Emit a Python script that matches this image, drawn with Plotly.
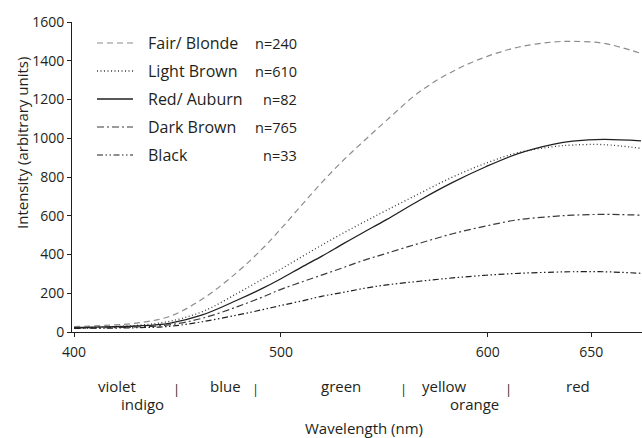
import plotly.graph_objects as go

# ---------------- data ----------------
wavelength = [400, 415, 430, 446, 462, 479, 491, 500, 510, 520, 530, 540, 551, 567, 583, 599, 615, 632, 641, 656, 674]

fair_blonde = [28, 34, 46, 80, 170, 310, 430, 533, 655, 775, 885, 985, 1092, 1240, 1345, 1420, 1471, 1497, 1500, 1490, 1438]
light_brown = [22, 27, 34, 55, 105, 200, 272, 325, 388, 450, 510, 567, 628, 715, 800, 871, 927, 957, 965, 967, 948]
red_auburn = [22, 26, 31, 45, 88, 165, 225, 275, 335, 393, 455, 515, 580, 680, 772, 853, 922, 970, 985, 994, 986]
dark_brown = [19, 22, 26, 37, 71, 131, 180, 220, 258, 295, 332, 370, 406, 458, 507, 547, 580, 597, 603, 607, 603]
black = [19, 20, 22, 29, 53, 88, 115, 137, 160, 185, 204, 225, 243, 262, 279, 293, 303, 309, 311, 311, 303]

series_names = ["Fair/ Blonde", "Light Brown", "Red/ Auburn", "Dark Brown", "Black"]
series_counts = ["n=240", "n=610", "n=82", "n=765", "n=33"]
series_values = [fair_blonde, light_brown, red_auburn, dark_brown, black]

x_tick_vals = [400, 500, 600, 650]
y_tick_vals = [0, 200, 400, 600, 800, 1000, 1200, 1400, 1600]

band_labels = ["violet", "indigo", "|", "blue", "|", "green", "|", "yellow", "orange", "|", "red"]
band_positions = [420.7, 433.3, 449.7, 473.4, 487.9, 529.0, 559.0, 578.8, 593.3, 610.2, 643.6]
band_rows = [0, 1, 0, 0, 0, 0, 0, 0, 1, 0, 0]

# ---------------- styling ----------------
W, H = 642, 438
ML, MR, MT, MB = 72, 0, 22, 106
PW, PH = W - ML - MR, H - MT - MB
FONT = "Open Sans"
TXT = "#231f20"

styles = [
    dict(color="#8c8c8c", width=1.2, dash="6px,4px"),
    dict(color="#3a3a3a", width=1.3, dash="1px,2.5px"),
    dict(color="#231f20", width=1.3, dash="solid"),
    dict(color="#3a3a3a", width=1.2, dash="7px,3px,2px,3px"),
    dict(color="#231f20", width=1.2, dash="6px,2.5px,1.5px,2.5px,1.5px,2.5px"),
]


def px_x(p):
    return (p - ML) / PW


def px_y(p):
    return (MT + PH - p) / PH


fig = go.Figure()
for name, vals, st in zip(series_names, series_values, styles):
    fig.add_trace(go.Scatter(
        x=wavelength, y=vals, mode="lines", name=name,
        line=dict(shape="spline", smoothing=1.0, **st),
        showlegend=False, hoverinfo="x+y+name",
    ))

# manual legend
shapes = []
annotations = []
row_y = [43, 71, 99, 127, 155]
for i, (name, cnt, st) in enumerate(zip(series_names, series_counts, styles)):
    yp = px_y(row_y[i])
    shapes.append(dict(type="line", xref="paper", yref="paper",
                       x0=px_x(97), x1=px_x(133), y0=yp, y1=yp,
                       line=dict(color=st["color"], width=st["width"], dash=st["dash"])))
    annotations.append(dict(xref="paper", yref="paper", x=px_x(146), y=yp,
                            text=name, showarrow=False, xanchor="left", yanchor="middle",
                            font=dict(family=FONT, size=16, color=TXT)))
    annotations.append(dict(xref="paper", yref="paper", x=px_x(299), y=yp,
                            text=cnt, showarrow=False, xanchor="right", yanchor="middle",
                            font=dict(family=FONT, size=14.5, color=TXT)))

# colour bands under the x-axis
for lab, pos, row in zip(band_labels, band_positions, band_rows):
    yp = 386 if row == 0 else 404
    if lab == "|":
        yp = 389
    annotations.append(dict(xref="x", yref="paper", x=pos, y=px_y(yp),
                            text=lab, showarrow=False, xanchor="center", yanchor="middle",
                            font=dict(family=FONT, size=15 if lab != "|" else 13, color=TXT)))

# axis titles
annotations.append(dict(xref="paper", yref="paper", x=px_x(364), y=px_y(428),
                        text="Wavelength (nm)", showarrow=False, xanchor="center", yanchor="middle",
                        font=dict(family=FONT, size=15, color=TXT)))
annotations.append(dict(xref="paper", yref="paper", x=px_x(22), y=px_y(143),
                        text="Intensity (arbitrary units)", showarrow=False, textangle=-90,
                        xanchor="center", yanchor="middle",
                        font=dict(family=FONT, size=15, color=TXT)))

fig.update_layout(
    width=W, height=H,
    margin=dict(l=ML, r=MR, t=MT, b=MB, pad=0),
    paper_bgcolor="white", plot_bgcolor="white",
    font=dict(family=FONT, size=14, color=TXT),
    shapes=shapes, annotations=annotations,
    showlegend=False,
)
fig.update_xaxes(
    range=[399, 674.5], tickvals=x_tick_vals, ticks="outside", ticklen=4,
    tickcolor="#231f20", showline=True, linecolor="#231f20", linewidth=1,
    showgrid=False, zeroline=False, tickfont=dict(family=FONT, size=14, color=TXT),
    ticklabelstandoff=3,
)
fig.update_yaxes(
    range=[0, 1600], tickvals=y_tick_vals, ticks="outside", ticklen=4,
    tickcolor="#231f20", showline=True, linecolor="#231f20", linewidth=1,
    showgrid=False, zeroline=False, tickfont=dict(family=FONT, size=14, color=TXT),
)

fig.write_html("out.html")
